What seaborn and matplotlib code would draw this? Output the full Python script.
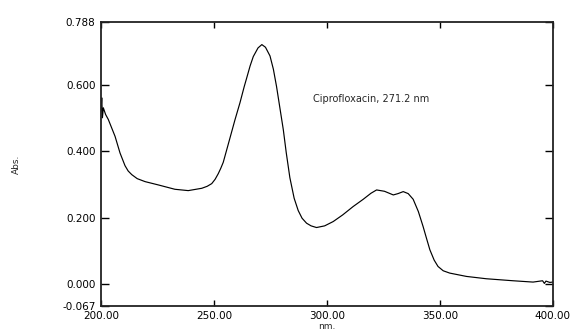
import numpy as np
import pandas as pd
import matplotlib
matplotlib.use("Agg")
import matplotlib.pyplot as plt
import seaborn as sns

# UV spectrum of ciprofloxacin
wavelength = [200.0, 200.3, 200.6, 201.0, 202.0, 203.2, 206.2, 208.4, 210.6, 212.0,
              213.6, 216.0, 219.5, 225.4, 232.7, 238.6, 244.6, 247.0, 249.0, 250.5,
              251.9, 253.0, 254.1, 256.3, 259.3, 261.5, 263.4, 264.5, 266.0, 267.4,
              269.5, 271.2, 272.8, 274.8, 276.3, 277.7, 280.7, 282.0, 283.6, 285.5,
              287.3, 289.0, 291.0, 293.0, 295.4, 299.0, 302.8, 307.0, 311.6, 316.1,
              319.5, 322.0, 325.5, 329.4, 331.5, 333.8, 336.0, 338.2, 340.5, 342.6,
              344.0, 345.6, 347.5, 349.2, 351.5, 354.4, 361.8, 370.6, 382.4, 391.3,
              395.5, 396.3, 397.0, 398.7, 400.0]
absorbance = [0.520, 0.560, 0.500, 0.530, 0.510, 0.495, 0.444, 0.394, 0.356, 0.340,
              0.329, 0.317, 0.308, 0.298, 0.285, 0.281, 0.288, 0.294, 0.302, 0.315,
              0.332, 0.348, 0.366, 0.420, 0.494, 0.545, 0.594, 0.620, 0.656, 0.684,
              0.710, 0.720, 0.712, 0.686, 0.646, 0.594, 0.464, 0.395, 0.320, 0.258,
              0.221, 0.198, 0.183, 0.175, 0.170, 0.175, 0.188, 0.208, 0.233, 0.255,
              0.273, 0.283, 0.279, 0.268, 0.272, 0.278, 0.272, 0.255, 0.218, 0.173,
              0.140, 0.103, 0.072, 0.053, 0.040, 0.033, 0.023, 0.016, 0.010, 0.006,
              0.010, 0.002, 0.009, 0.005, 0.006]

x_ticks = [200, 250, 300, 350, 400]
x_tick_labels = ["200.00", "250.00", "300.00", "350.00", "400.00"]
y_ticks = [-0.067, 0.0, 0.2, 0.4, 0.6, 0.788]
y_tick_labels = ["-0.067", "0.000", "0.200", "0.400", "0.600", "0.788"]
annotation = "Ciprofloxacin, 271.2 nm"

df = pd.DataFrame({"nm": wavelength, "abs": absorbance})

sns.set_style("white")
plt.rcParams["font.family"] = ["DejaVu Sans"]

fig = plt.figure(figsize=(5.71, 3.33), dpi=100)
ax = fig.add_axes([0.177, 0.080, 0.791, 0.854])

sns.lineplot(data=df, x="nm", y="abs", ax=ax, color="black", linewidth=0.85,
             sort=False, estimator=None)

ax.set_xlim(200, 400)
ax.set_ylim(-0.067, 0.788)
ax.set_xticks(x_ticks)
ax.set_xticklabels(x_tick_labels)
ax.set_yticks(y_ticks)
ax.set_yticklabels(y_tick_labels)

ax.tick_params(axis="x", direction="in", length=4, width=1, top=True, bottom=True,
               labelsize=7.5, pad=3.5, colors="black")
ax.tick_params(axis="y", direction="in", length=5.5, width=1, left=True, right=True,
               labelsize=7.5, pad=4, colors="black")

for side in ["left", "right", "top", "bottom"]:
    ax.spines[side].set_visible(True)
    ax.spines[side].set_color("#222222")
    ax.spines[side].set_linewidth(1.3)

ax.set_xlabel("nm.", fontsize=6.5, labelpad=0.5)
ax.set_ylabel("Abs.", fontsize=6.5, labelpad=30)

ax.text(293.8, 0.557, annotation, fontsize=7, va="center", ha="left")

fig.savefig("out.png", dpi=100)
